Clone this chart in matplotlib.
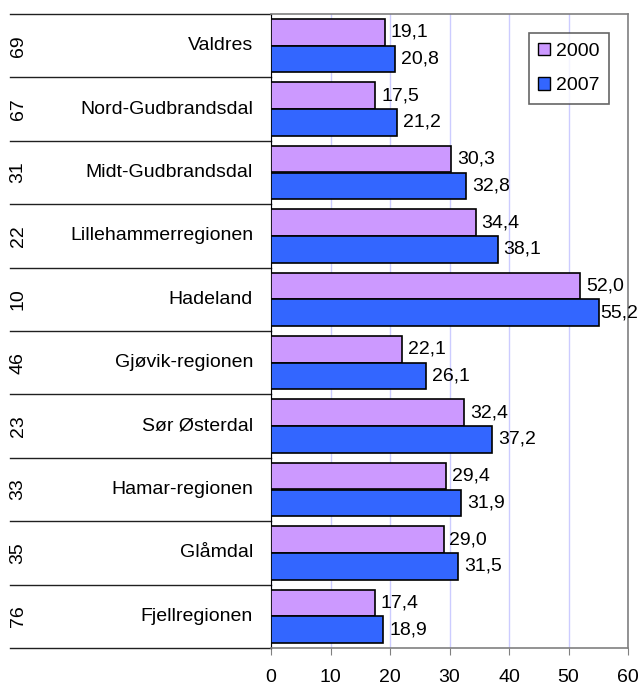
import matplotlib
matplotlib.use("Agg")
import matplotlib.pyplot as plt
import matplotlib.transforms as mtransforms
from matplotlib.patches import Patch

regions = ["Valdres", "Nord-Gudbrandsdal", "Midt-Gudbrandsdal", "Lillehammerregionen",
           "Hadeland", "Gjøvik-regionen", "Sør Østerdal", "Hamar-regionen", "Glåmdal",
           "Fjellregionen"]
ranks = ["69", "67", "31", "22", "10", "46", "23", "33", "35", "76"]
v2000 = [19.1, 17.5, 30.3, 34.4, 52.0, 22.1, 32.4, 29.4, 29.0, 17.4]
v2007 = [20.8, 21.2, 32.8, 38.1, 55.2, 26.1, 37.2, 31.9, 31.5, 18.9]
xticks = [0, 10, 20, 30, 40, 50, 60]

plt.rcParams['font.family'] = ['Liberation Sans', 'DejaVu Sans']
fig = plt.figure(figsize=(6.41, 6.86), dpi=100)
ax = fig.add_axes([271/641, 1-648/686, (628-271)/641, (648-14)/686])

c2000 = "#CC99FF"
c2007 = "#3366FF"
h = 0.42
ys = list(range(len(regions)))
ax.barh([y - h/2 for y in ys], v2000, height=h, color=c2000, edgecolor="black", linewidth=1.2, zorder=3)
ax.barh([y + h/2 for y in ys], v2007, height=h, color=c2007, edgecolor="black", linewidth=1.2, zorder=3)

fs = 14
for y, v in zip(ys, v2000):
    ax.text(v + 1.0, y - h/2, f"{v:.1f}".replace(".", ","), va="center", ha="left", fontsize=fs, zorder=4)
for y, v in zip(ys, v2007):
    ax.text(v + 0.1 if v > 50 else v + 1.0, y + h/2, f"{v:.1f}".replace(".", ","), va="center", ha="left", fontsize=fs, zorder=4)

ax.set_xlim(0, 60)
ax.set_ylim(len(regions) - 0.5, -0.5)
ax.set_xticks(xticks)
ax.set_xticklabels([str(t) for t in xticks], fontsize=fs)
ax.tick_params(axis="x", direction="out", length=5, pad=10, color="#808080")
ax.set_yticks([])
ax.grid(axis="x", color="#CCCCFF", linewidth=1.0, zorder=0)
for s in ["top", "right", "bottom"]:
    ax.spines[s].set_color("#808080")
    ax.spines[s].set_linewidth(1.2)
ax.spines["left"].set_color("black")

trans = mtransforms.blended_transform_factory(fig.transFigure, ax.transData)
for b in [i - 0.5 for i in range(len(regions) + 1)]:
    ax.plot([10/641, 271/641], [b, b], transform=trans, color="#202020", linewidth=1.0, clip_on=False)
for y, name, r in zip(ys, regions, ranks):
    ax.text(253/641, y, name, transform=trans, ha="right", va="center", fontsize=fs)
    ax.text(18/641, y, r, transform=trans, ha="center", va="center", rotation=90, fontsize=fs)

leg = ax.legend(handles=[Patch(facecolor=c2000, edgecolor="black"), Patch(facecolor=c2007, edgecolor="black")],
                labels=["2000", "2007"], loc="upper right", bbox_to_anchor=(609/641, 1-33/686),
                bbox_transform=fig.transFigure, fontsize=fs, frameon=True, fancybox=False,
                edgecolor="#404040", handlelength=0.6, handleheight=0.6, handletextpad=0.3,
                labelspacing=0.9, borderpad=0.5, borderaxespad=0)
leg.get_frame().set_linewidth(1.2)

fig.savefig("out.png", dpi=100)
